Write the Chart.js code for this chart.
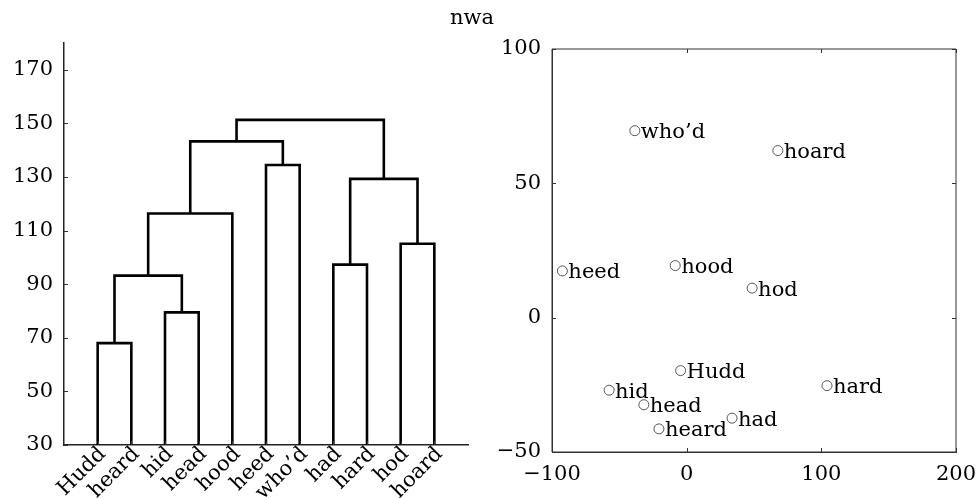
<!DOCTYPE html>
<html>
<head>
<meta charset="utf-8">
<script src="https://cdn.jsdelivr.net/npm/chart.js@4/dist/chart.umd.min.js"></script>
<style>
  body { margin: 0; background: #fff; }
  #wrap { position: relative; width: 980px; height: 498px; }
  #title { position: absolute; left: 450px; top: 7px; font: 21px 'DejaVu Serif', serif; line-height: 1; color: #000; }
  canvas { position: absolute; top: 0; }
</style>
</head>
<body>
<div id="wrap">
  <canvas id="treeChart" width="490" height="498" style="left:0"></canvas>
  <canvas id="mapChart" width="490" height="498" style="left:490px"></canvas>
  <div id="title">nwa</div>
</div>
<script>
// dendrogram: leaves in plotted order, merges refer to leaf numbers 1..11, clusters 12+
const leaves = ['Hudd', 'heard', 'hid', 'head', 'hood', 'heed', 'who’d', 'had', 'hard', 'hod', 'hoard'];
const mergeA = [1, 3, 12, 14, 6, 15, 8, 10, 18, 17];
const mergeB = [2, 4, 13, 5, 7, 16, 9, 11, 19, 20];
const mergeHeight = [68, 79.5, 93.2, 116.4, 134.5, 143.3, 97.3, 105.1, 129.3, 151.3];
const treeTicks = [30, 50, 70, 90, 110, 130, 150, 170];
const leafBase = 30;

// 2D map of the vowels
const words = ['who’d', 'hoard', 'heed', 'hood', 'hod', 'Hudd', 'hard', 'hid', 'head', 'had', 'heard'];
const wordX = [-38.5, 67.7, -92.3, -8.5, 48.6, -4.5, 104.2, -57.6, -31.8, 33.7, -20.6];
const wordY = [69.6, 62.2, 17.4, 19.4, 11, -19.7, -25.3, -27, -32.4, -37.4, -41.4];
const mapXTicks = [-100, 0, 100, 200];
const mapYTicks = [-50, 0, 50, 100];

Chart.defaults.font.family = "'DejaVu Serif', serif";
Chart.defaults.font.size = 21;
Chart.defaults.color = '#000';

// node positions (x = leaf slot, y = height)
const nodeX = {}, nodeY = {};
leaves.forEach((l, i) => { nodeX[i + 1] = i + 1; nodeY[i + 1] = leafBase; });
const links = [];
mergeA.forEach((a, i) => {
  const b = mergeB[i], h = mergeHeight[i], id = leaves.length + 1 + i;
  links.push({
    data: [{x: nodeX[a], y: nodeY[a]}, {x: nodeX[a], y: h}, {x: nodeX[b], y: h}, {x: nodeX[b], y: nodeY[b]}],
    showLine: true, borderColor: '#000', borderWidth: 2.6, pointRadius: 0, tension: 0, fill: false
  });
  nodeX[id] = (nodeX[a] + nodeX[b]) / 2;
  nodeY[id] = h;
});

// small inward tick marks and optional frame
const innerTicks = {
  id: 'innerTicks',
  afterDraw(chart, args, opts) {
    const {ctx, chartArea: a} = chart;
    const sx = chart.scales.x, sy = chart.scales.y;
    ctx.save();
    ctx.strokeStyle = '#333';
    ctx.lineWidth = 1;
    ctx.beginPath();
    if (opts.box) ctx.rect(a.left, a.top, a.right - a.left, a.bottom - a.top);
    sy.ticks.forEach(t => {
      const p = Math.round(sy.getPixelForValue(t.value)) + 0.5;
      ctx.moveTo(a.left, p); ctx.lineTo(a.left + opts.len, p);
      if (opts.box) { ctx.moveTo(a.right, p); ctx.lineTo(a.right - opts.len, p); }
    });
    sx.ticks.forEach(t => {
      const p = Math.round(sx.getPixelForValue(t.value)) + 0.5;
      ctx.moveTo(p, a.bottom); ctx.lineTo(p, a.bottom - opts.len);
      if (opts.box) { ctx.moveTo(p, a.top); ctx.lineTo(p, a.top + opts.len); }
    });
    ctx.stroke();
    ctx.restore();
  }
};

const pointNames = {
  id: 'pointNames',
  afterDatasetsDraw(chart) {
    const {ctx} = chart;
    const meta = chart.getDatasetMeta(0);
    ctx.save();
    ctx.font = "21px 'DejaVu Serif', serif";
    ctx.fillStyle = '#000';
    ctx.textBaseline = 'alphabetic';
    meta.data.forEach((pt, i) => ctx.fillText(words[i], pt.x + 6, pt.y + 7.5));
    ctx.restore();
  }
};

const minus = v => String(v).replace('-', '−');
const noGrid = { display: false, drawTicks: false, tickLength: 0 };

new Chart(document.getElementById('treeChart'), {
  type: 'scatter',
  data: { datasets: links },
  plugins: [innerTicks],
  options: {
    responsive: false,
    animation: false,
    layout: { padding: { top: 43, right: 22, left: 0, bottom: 0 } },
    plugins: { legend: { display: false }, tooltip: { enabled: false }, innerTicks: { box: false, len: 4 } },
    scales: {
      x: {
        type: 'linear', min: 0, max: leaves.length + 1,
        grid: noGrid,
        border: { display: true, color: '#222', width: 1.5 },
        afterBuildTicks: s => { s.ticks = leaves.map((l, i) => ({value: i + 1})); },
        afterFit: s => { s.height = 53; s.paddingLeft = 0; s.paddingRight = 0; },
        ticks: {
          autoSkip: false, minRotation: 45, maxRotation: 45, padding: -3, labelOffset: 5,
          callback: v => leaves[v - 1] || ''
        }
      },
      y: {
        min: 30, max: 180,
        grid: noGrid,
        border: { display: true, color: '#222', width: 1.5 },
        afterBuildTicks: s => { s.ticks = treeTicks.map(v => ({value: v})); },
        afterFit: s => { s.width = 64; },
        ticks: { padding: 11 }
      }
    }
  }
});

new Chart(document.getElementById('mapChart'), {
  type: 'scatter',
  data: {
    datasets: [{
      data: wordX.map((x, i) => ({x: x, y: wordY[i]})),
      pointRadius: 5, pointBorderWidth: 1, pointBorderColor: '#555', pointBackgroundColor: '#fff'
    }]
  },
  plugins: [innerTicks, pointNames],
  options: {
    responsive: false,
    animation: false,
    layout: { padding: { top: 49, right: 24, left: 0, bottom: 0 } },
    plugins: { legend: { display: false }, tooltip: { enabled: false }, innerTicks: { box: true, len: 4 } },
    scales: {
      x: {
        min: -100, max: 200,
        grid: noGrid,
        border: { display: true, color: '#333', width: 1 },
        afterBuildTicks: s => { s.ticks = mapXTicks.map(v => ({value: v})); },
        afterFit: s => { s.height = 46; s.paddingLeft = 0; s.paddingRight = 0; },
        ticks: { maxRotation: 0, padding: 10, callback: minus }
      },
      y: {
        min: -50, max: 100,
        grid: noGrid,
        border: { display: true, color: '#333', width: 1 },
        afterBuildTicks: s => { s.ticks = mapYTicks.map(v => ({value: v})); },
        afterFit: s => { s.width = 62; },
        ticks: { padding: 11, callback: minus }
      }
    }
  }
});
</script>
</body>
</html>
